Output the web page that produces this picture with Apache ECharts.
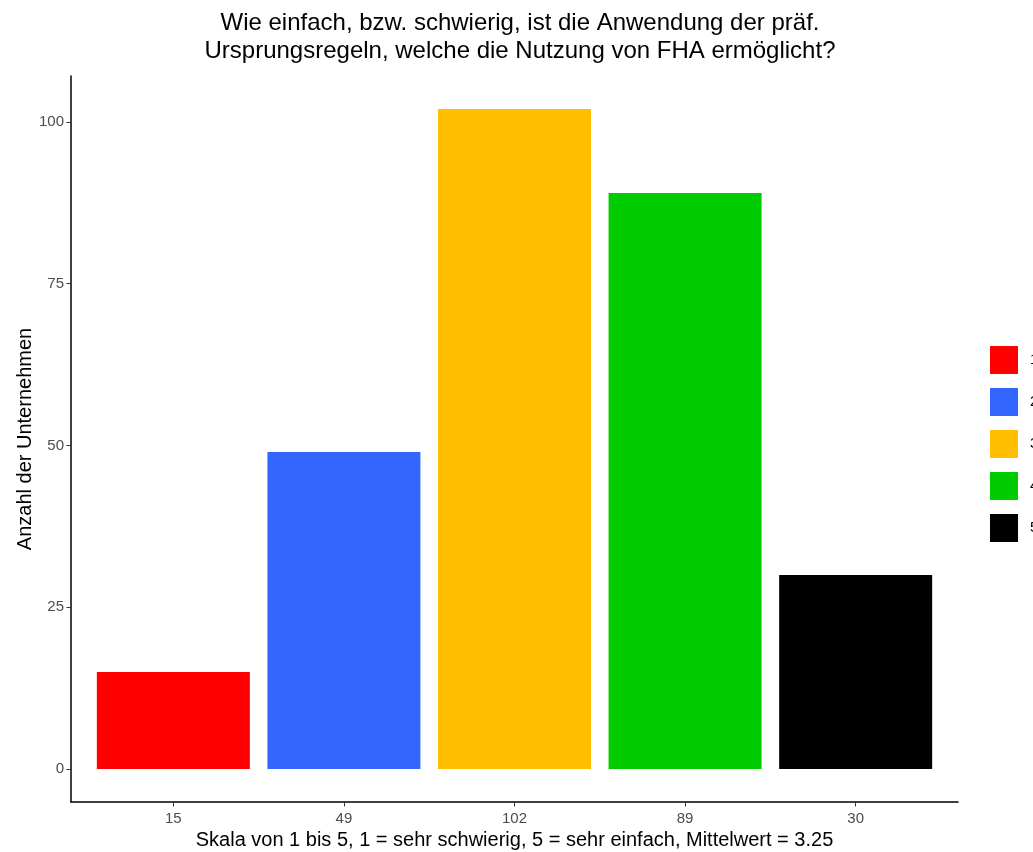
<!DOCTYPE html>
<html>
<head>
<meta charset="utf-8">
<script src="https://cdn.jsdelivr.net/npm/echarts@6/dist/echarts.min.js"></script>
<style>html,body{margin:0;padding:0;background:#fff}#c{width:1033px;height:852px}</style>
</head>
<body>
<div id="c"></div>
<script>
const categories = ['15', '49', '102', '89', '30'];
const legendNames = ['1', '2', '3', '4', '5'];
const counts = [15, 49, 102, 89, 30];
const colors = ['#FF0000', '#3366FF', '#FFBF00', '#00CC00', '#000000'];
const yTicks = [0, 25, 50, 75, 100];
const xPositions = [1, 2, 3, 4, 5];

const chart = echarts.init(document.getElementById('c'));
const font = 'Liberation Sans, Arial, sans-serif';
const series = legendNames.map((n, i) => ({
  name: n,
  type: 'bar',
  stack: 'all',
  barWidth: 153,
  itemStyle: { color: colors[i] },
  data: [[xPositions[i], counts[i]]]
}));
chart.setOption({
  animation: false,
  color: colors,
  title: {
    text: 'Wie einfach, bzw. schwierig, ist die Anwendung der präf.\nUrsprungsregeln, welche die Nutzung von FHA ermöglicht?',
    left: 515, top: 4, textAlign: 'center',
    textStyle: { fontFamily: font, fontSize: 24, fontWeight: 'normal', color: '#000', lineHeight: 28 }
  },
  legend: {
    orient: 'vertical', left: 985, top: 341,
    itemWidth: 28, itemHeight: 28, itemGap: 14, icon: 'rect',
    data: legendNames,
    textStyle: { fontFamily: font, fontSize: 15, color: '#000', padding: [0, 0, 0, 7] }
  },
  grid: { left: 71, right: 75, top: 76, bottom: 50, containLabel: false, outerBoundsMode: 'none' },
  xAxis: {
    type: 'value', min: 0.4, max: 5.6,
    name: 'Skala von 1 bis 5, 1 = sehr schwierig, 5 = sehr einfach, Mittelwert = 3.25',
    nameLocation: 'middle', nameGap: 28, nameMoveOverlap: false,
    nameTextStyle: { fontFamily: font, fontSize: 20, color: '#000' },
    axisLine: { show: true, onZero: false, lineStyle: { color: '#000', width: 1.5 } },
    axisTick: { show: true, length: 4.5, lineStyle: { color: '#333' }, customValues: xPositions },
    axisLabel: { fontFamily: font, fontSize: 15, color: '#4d4d4d', margin: 9, customValues: xPositions,
      formatter: v => categories[Math.round(v) - 1] },
    splitLine: { show: false }
  },
  yAxis: {
    type: 'value', min: -5.1, max: 107.1,
    name: 'Anzahl der Unternehmen', nameLocation: 'middle', nameGap: 36, nameMoveOverlap: false,
    nameTextStyle: { fontFamily: font, fontSize: 20, color: '#000' },
    axisLine: { show: true, onZero: false, lineStyle: { color: '#000', width: 1.5 } },
    axisTick: { show: true, length: 4.5, lineStyle: { color: '#333' }, customValues: yTicks },
    axisLabel: { fontFamily: font, fontSize: 15, color: '#4d4d4d', margin: 7, customValues: yTicks },
    splitLine: { show: false }
  },
  series: series
});
</script>
</body>
</html>
